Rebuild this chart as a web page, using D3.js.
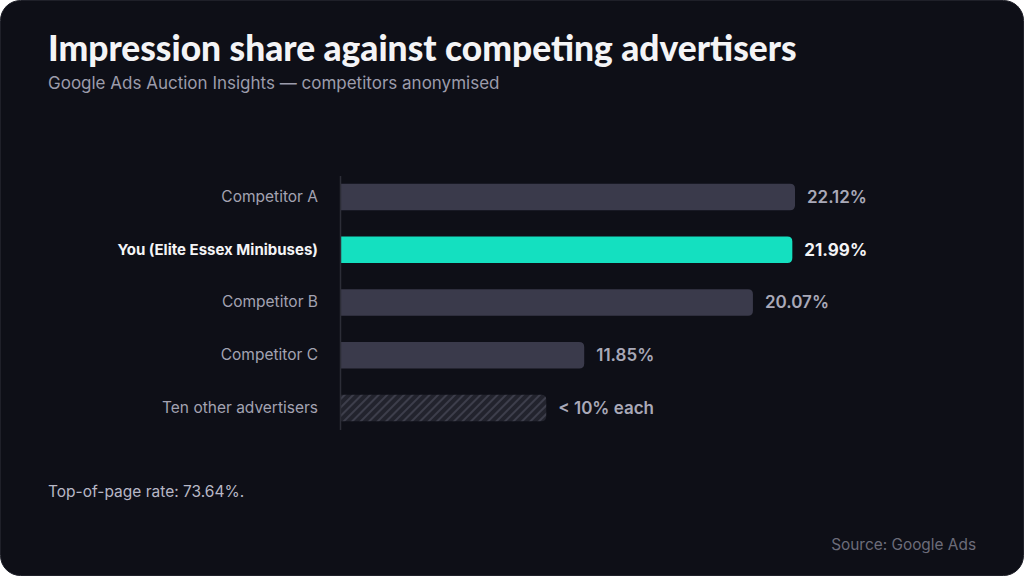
<!DOCTYPE html>
<html>
<head>
<meta charset="utf-8">
<script src="https://cdn.jsdelivr.net/npm/d3@7"></script>
<style>
  html, body { margin: 0; padding: 0; background: #ffffff; }
  svg { display: block; }
</style>
</head>
<body>
<div id="chart"></div>
<script>
// data
const categories = ['Competitor A', 'You (Elite Essex Minibuses)', 'Competitor B', 'Competitor C', 'Ten other advertisers'];
const shares = [22.12, 21.99, 20.07, 11.85, 10];
const valueLabels = ['22.12%', '21.99%', '20.07%', '11.85%', '< 10% each'];
const highlight = 'You (Elite Essex Minibuses)';
const hatched = 'Ten other advertisers';

const width = 1024;
const height = 576;
const margin = { top: 170.6, right: 229, bottom: 141.6, left: 341 };

const svg = d3
  .select('#chart')
  .append('svg')
  .attr('width', width)
  .attr('height', height);

const defs = svg.append('defs');
const pat = defs
  .append('pattern')
  .attr('id', 'hatch')
  .attr('patternUnits', 'userSpaceOnUse')
  .attr('width', 6)
  .attr('height', 6)
  .attr('patternTransform', 'rotate(45)');
pat.append('rect').attr('width', 6).attr('height', 6).attr('fill', '#22232d');
pat.append('rect').attr('width', 2).attr('height', 6).attr('fill', '#3d3e4b');

// card
svg
  .append('rect')
  .attr('x', 0.5)
  .attr('y', 0.5)
  .attr('width', width - 1)
  .attr('height', height - 1)
  .attr('rx', 20)
  .attr('fill', '#0e0f17')
  .attr('stroke', '#1f2029');

// title, squeezed to the reference width
const title = svg
  .append('text')
  .attr('x', 48)
  .attr('y', 61)
  .style('font-family', 'Lato, sans-serif')
  .style('font-weight', 900)
  .style('font-size', '29px')
  .attr('fill', '#f4f4f6')
  .text('Impression share against competing advertisers');
const tw = title.node().getComputedTextLength();
title.style('font-size', (29 * 749) / tw + 'px');

svg
  .append('text')
  .attr('x', 48)
  .attr('y', 89)
  .style('font-family', 'Inter, sans-serif')
  .style('font-size', '17px')
  .attr('fill', '#9c9cab')
  .text('Google Ads Auction Insights — competitors anonymised');

// scales
const x = d3
  .scaleLinear()
  .domain([0, d3.max(shares)])
  .range([margin.left, width - margin.right]);

const y = d3
  .scaleBand()
  .domain(categories)
  .range([margin.top, height - margin.bottom])
  .paddingInner(0.5)
  .paddingOuter(0.25);

const barFill = (d) => (d === highlight ? '#14e0c0' : d === hatched ? 'url(#hatch)' : '#3a3a4b');

// bar with rounded right end only
function barPath(x0, x1, y0, h, r) {
  return `M${x0},${y0}H${x1 - r}Q${x1},${y0} ${x1},${y0 + r}V${y0 + h - r}Q${x1},${y0 + h} ${x1 - r},${y0 + h}H${x0}Z`;
}

const rows = categories.map((c, i) => ({ cat: c, v: shares[i], label: valueLabels[i] }));

svg
  .append('g')
  .selectAll('path')
  .data(rows)
  .join('path')
  .attr('d', (d) => barPath(x(0), x(d.v), y(d.cat), y.bandwidth(), 5))
  .attr('fill', (d) => barFill(d.cat));

// y axis: labels and the baseline
const yAxis = svg
  .append('g')
  .attr('transform', `translate(${x(0)},0)`)
  .call(d3.axisLeft(y).tickSize(0).tickPadding(23));
yAxis.select('.domain').remove();
yAxis
  .selectAll('.tick text')
  .style('font-family', 'Inter, sans-serif')
  .style('font-size', (d) => (d === highlight ? '15px' : '15.5px'))
  .style('font-weight', (d) => (d === highlight ? 700 : 400))
  .attr('fill', (d) => (d === highlight ? '#f4f4f6' : '#a3a3b2'));

svg
  .append('line')
  .attr('x1', x(0) - 0.5)
  .attr('x2', x(0) - 0.5)
  .attr('y1', 176)
  .attr('y2', 430)
  .attr('stroke', '#2c2d37')
  .attr('stroke-width', 1.5);

// value labels
svg
  .append('g')
  .selectAll('text')
  .data(rows)
  .join('text')
  .attr('x', (d) => x(d.v) + 12)
  .attr('y', (d) => y(d.cat) + y.bandwidth() / 2)
  .attr('dy', '0.35em')
  .style('font-family', 'Inter, sans-serif')
  .style('font-size', '17px')
  .style('font-weight', (d) => (d.cat === highlight ? 700 : 600))
  .attr('fill', (d) => (d.cat === highlight ? '#f4f4f6' : '#a9a9b8'))
  .text((d) => d.label);

// footer
svg
  .append('text')
  .attr('x', 48)
  .attr('y', 497)
  .style('font-family', 'Inter, sans-serif')
  .style('font-size', '15.5px')
  .attr('fill', '#b8b8c6')
  .text('Top-of-page rate: 73.64%.');

svg
  .append('text')
  .attr('x', 976)
  .attr('y', 550)
  .attr('text-anchor', 'end')
  .style('font-family', 'Inter, sans-serif')
  .style('font-size', '15.4px')
  .attr('fill', '#6c6c7a')
  .text('Source: Google Ads');
</script>
</body>
</html>
